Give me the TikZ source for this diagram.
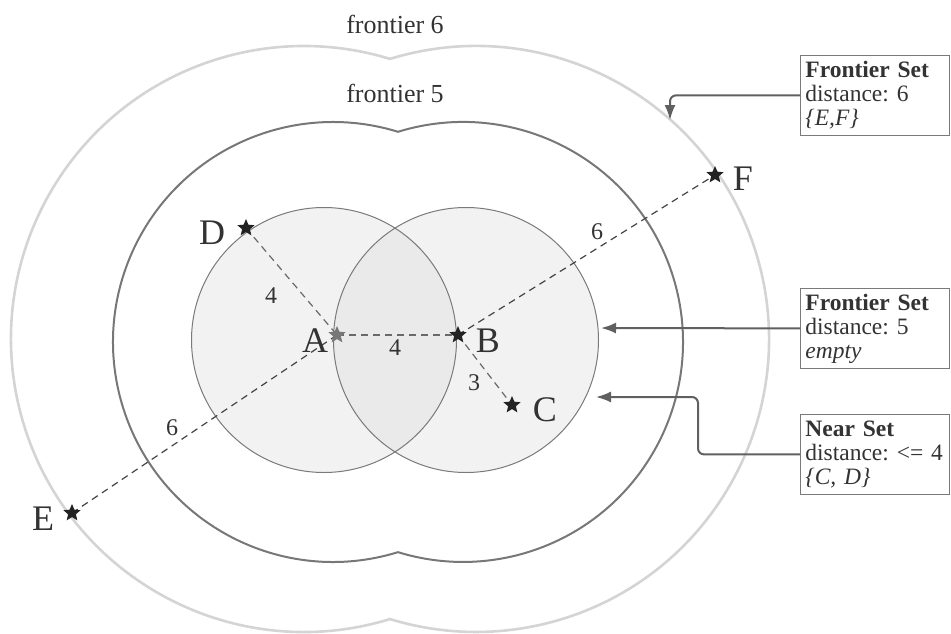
\documentclass[tikz,border=0pt]{standalone}
\usepackage{fontspec}
\setmainfont{Liberation Serif}
\usetikzlibrary{shapes.geometric,arrows.meta}
\definecolor{txt}{HTML}{333333}
\definecolor{circfillc}{HTML}{F2F2F2}
\definecolor{overlapc}{HTML}{EAEAEA}
\definecolor{circlinec}{HTML}{7A7A7A}
\definecolor{ffivec}{HTML}{777777}
\definecolor{fsixc}{HTML}{D4D4D4}
\definecolor{dashc}{HTML}{444444}
\definecolor{arrowc}{HTML}{606060}
\definecolor{boxc}{HTML}{7A7A7A}
\definecolor{starc}{HTML}{222222}
\definecolor{stara}{HTML}{777777}
\pgfdeclarelayer{background}
\pgfsetlayers{background,main}
\tikzset{
  starnode/.style={star, star points=5, star point ratio=2.2, fill=starc, draw=none, inner sep=0pt, minimum size=18pt},
  ptlabel/.style={text=txt, font=\fontsize{36}{36}\selectfont, inner sep=0pt},
  edgelabel/.style={text=txt, font=\fontsize{24}{24}\selectfont, inner sep=0pt},
  flabel/.style={text=txt, font=\fontsize{26}{26}\selectfont, inner sep=0pt},
  infobox/.style={draw=boxc, line width=0.8pt, fill=white, text=txt, text width=139pt, minimum height=80pt, inner sep=5pt, align=left, anchor=north west, font=\fontsize{23.5}{24}\selectfont},
  pointer/.style={draw=arrowc, line width=2pt, rounded corners=6pt, -{Latex[length=15pt,width=11pt]}},
  dashline/.style={draw=dashc, line width=1.2pt, dash pattern=on 7pt off 5pt},
  circline/.style={draw=circlinec, line width=1pt},
  ffive/.style={draw=ffivec, line width=2pt},
  fsix/.style={draw=fsixc, line width=2.6pt}
}
\frenchspacing
\begin{document}
\begin{tikzpicture}[x=1pt,y=-1pt]
\useasboundingbox (0,0) rectangle (951,634);
% stars
\node[starnode, fill=stara] (a) at (337,335) {};
\node[starnode] (b) at (458,335) {};
\node[starnode] (c) at (512,405) {};
\node[starnode] (d) at (246,228) {};
\node[starnode] (e) at (72,513) {};
\node[starnode] (f) at (715,175) {};
% point labels
\node[ptlabel] (la) at (315,341) {A};
\node[ptlabel] (lb) at (488,341) {B};
\node[ptlabel] (lc) at (545,410) {C};
\node[ptlabel] (ld) at (212,233) {D};
\node[ptlabel] (le) at (43,519) {E};
\node[ptlabel] (lf) at (743,179) {F};
% edge labels
\node[edgelabel] (w1) at (271,296) {4};
\node[edgelabel] (w2) at (395,348) {4};
\node[edgelabel] (w3) at (474,383) {3};
\node[edgelabel] (w4) at (172,428) {6};
\node[edgelabel] (w5) at (597,232) {6};
% frontier labels
\node[flabel] (fl6) at (395,24) {frontier 6};
\node[flabel] (fl5) at (395,93) {frontier 5};
\begin{pgfonlayer}{background}
  % near set circles
  \fill[circfillc] (324,340) circle[radius=132.5];
  \fill[circfillc] (466,340) circle[radius=132.5];
  \begin{scope}
    \clip (324,340) circle[radius=132.5];
    \fill[overlapc] (466,340) circle[radius=132.5];
  \end{scope}
  \draw[circline] (324,340) circle[radius=132.5];
  \draw[circline] (466,340) circle[radius=132.5];
  % frontier 5
  \draw[ffive] (398,131.8) arc[start angle=-107.18, end angle=107.18, radius=220]
    arc[start angle=72.82, end angle=287.18, radius=220] -- cycle;
  % frontier 6
  \draw[fsix] (390,58.9) arc[start angle=-107.07, end angle=107.07, radius=293]
    arc[start angle=72.93, end angle=287.07, radius=293] -- cycle;
  % dashed edges
  \draw[dashline, draw=dashc!80] (d.center) -- (a.center);
  \draw[dashline, draw=dashc!80] (a.center) -- (b.center);
  \draw[dashline, draw=dashc!80] (b.center) -- (c.center);
  \draw[dashline] (e.center) -- (a.center);
  \draw[dashline] (b.center) -- (f.center);
\end{pgfonlayer}
% info boxes
\node[infobox] (box1) at (800,55) {\textbf{Frontier Set}\\distance: 6\\\textit{\{E,F\}}};
\node[infobox] (box2) at (800,288) {\textbf{Frontier Set}\\distance: 5\\\textit{empty}};
\node[infobox] (box3) at (800,414) {\textbf{Near Set}\\distance: <= 4\\\textit{\{C, D\}}};
% pointers
\coordinate (t1) at (670,120);
\coordinate (t2) at (601,328);
\coordinate (k3) at (698,397);
\coordinate (t3) at (596,397);
\draw[pointer] (box1.west) -| (t1);
\draw[pointer] (box2.west) -- (t2);
\draw[pointer] (box3.west) -| (k3) -- (t3);
\end{tikzpicture}
\end{document}
